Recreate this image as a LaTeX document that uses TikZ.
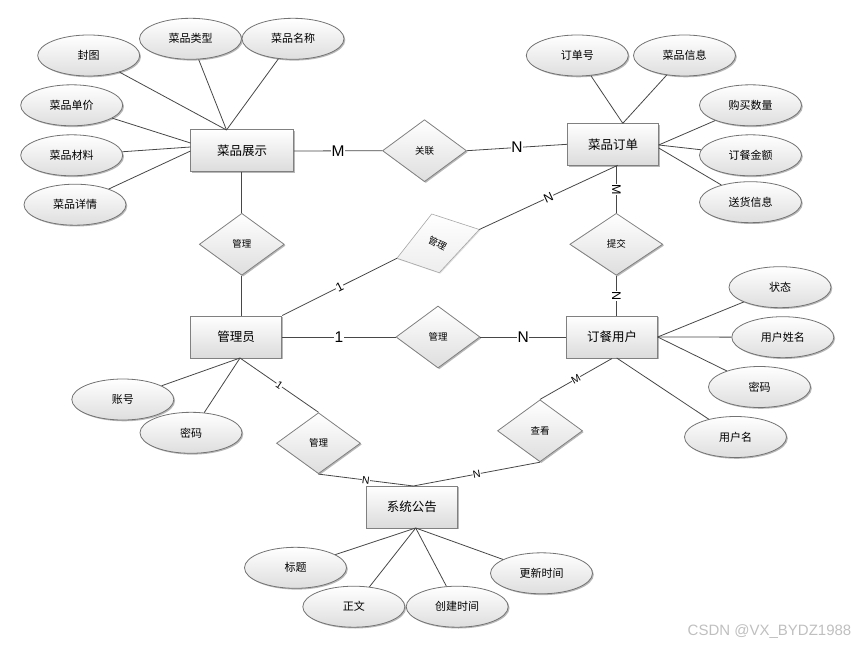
\documentclass[tikz,border=0pt]{standalone}
\usepackage{fontspec}
\setmainfont{Liberation Sans}
\newfontfamily\cjk{Noto Sans CJK SC}
\usetikzlibrary{shapes.geometric,shadows}
\tikzset{
 shdw/.style={drop shadow={shadow xshift=1.3pt,shadow yshift=-1.3pt,fill=black,opacity=0.28}},
 ln/.style={draw=black!72,line width=0.8pt},
 ent/.style={rectangle,draw=black!50,line width=1pt,top color=white,bottom color=black!14,
   minimum width=91pt,minimum height=42pt,inner sep=0pt,font=\cjk\fontsize{12.5}{14}\selectfont,shdw},
 attr/.style={ellipse,draw=black!55,line width=0.8pt,top color=white,bottom color=black!13,
   minimum width=102pt,minimum height=41pt,inner sep=0pt,font=\cjk\fontsize{11}{13}\selectfont,shdw},
 rel/.style={diamond,draw=black!50,line width=0.8pt,top color=white,bottom color=black!13,
   minimum width=85pt,minimum height=62pt,inner sep=0pt,font=\cjk\fontsize{9.5}{11}\selectfont,shdw},
 lab/.style={fill=white,inner sep=0.6pt,font=\fontsize{15.5}{16}\selectfont},
 mlab/.style={fill=white,inner sep=0.5pt,font=\fontsize{12.5}{13}\selectfont},
 slab/.style={fill=white,inner sep=0.3pt,font=\fontsize{10.5}{11}\selectfont},
}
\begin{document}
\begin{tikzpicture}[x=1pt,y=-1pt]
\useasboundingbox (0,0) rectangle (859,647);

% entities
\node[ent,minimum width=103pt] (zs) at (242,151) {菜品展示};
\node[ent] (dd) at (613.2,144.3) {菜品订单};
\node[ent] (gly) at (236.2,337) {管理员};
\node[ent] (yh) at (612,337) {订餐用户};
\node[ent] (gg) at (411.8,507) {系统公告};

% relationships
\node[rel,minimum width=84pt] (gl) at (424.5,150.7) {关联};
\node[rel] (gl1) at (241.8,244.3) {管理};
\node[rel,minimum width=93pt] (tj) at (616.3,244.3) {提交};
\node[rel,minimum width=84pt] (gl3) at (438,337) {管理};
\node[rel,minimum width=84pt,minimum height=61pt] (gl4) at (318.5,443.2) {管理};
\node[rel] (ck) at (540,430.8) {查看};

% tilted relationship
\coordinate (t1) at (431.7,214);
\coordinate (t2) at (479.3,229.5);
\coordinate (t3) at (439.3,272.7);
\coordinate (t4) at (396.9,258.3);
\path[draw=black!35,line width=0.6pt,top color=white,bottom color=black!7,
  drop shadow={shadow xshift=1pt,shadow yshift=-1pt,fill=black,opacity=0.12}]
  (t1) -- (t2) -- (t3) -- (t4) -- cycle;
\node[font=\cjk\fontsize{9.5}{11}\selectfont,rotate=-27] (gl2) at (437.5,243.5) {管理};

% attributes
\node[attr] (fengtu) at (88.7,55.5) {封图};
\node[attr] (leixing) at (190.5,38.8) {菜品类型};
\node[attr] (mingcheng) at (293,38.8) {菜品名称};
\node[attr] (danjia) at (71.7,105.3) {菜品单价};
\node[attr] (cailiao) at (71.7,155.3) {菜品材料};
\node[attr] (xiangqing) at (75,204.7) {菜品详情};
\node[attr] (dingdanhao) at (577.3,55.5) {订单号};
\node[attr] (xinxi) at (684.5,55.5) {菜品信息};
\node[attr] (shuliang) at (750.5,105.3) {购买数量};
\node[attr] (jine) at (750.5,155.3) {订餐金额};
\node[attr] (songhuo) at (750.5,202.2) {送货信息};
\node[attr] (zhuangtai) at (780,287.2) {状态};
\node[attr] (xingming) at (782.8,337.2) {用户姓名};
\node[attr] (mimab) at (759.5,387) {密码};
\node[attr] (yonghuming) at (735.5,437) {用户名};
\node[attr] (zhanghao) at (122.8,399.5) {账号};
\node[attr] (mimaa) at (191,432.8) {密码};
\node[attr] (biaoti) at (295.5,567.8) {标题};
\node[attr] (zhengwen) at (353.8,606.7) {正文};
\node[attr] (chuangjian) at (457.2,606.7) {创建时间};
\node[attr] (gengxin) at (541.5,573.3) {更新时间};

% attachment points
\coordinate (zsA) at (226.5,130);
\coordinate (zsB) at (190.5,143);
\coordinate (zsC) at (190.5,147);
\coordinate (zsD) at (190.5,151);
\coordinate (ddA) at (622.8,123.3);
\coordinate (ddB) at (658.7,145);
\coordinate (ddC) at (658.7,148);
\coordinate (ddS) at (617.7,165.3);
\coordinate (yhA) at (657.7,337);
\coordinate (yhB) at (616.7,358);
\coordinate (glyA) at (240,358);
\coordinate (ggA) at (415.7,528);
\coordinate (ggT) at (413.3,486);

% attribute lines
\draw[ln] (fengtu) -- (zsA);
\draw[ln] (leixing) -- (zsA);
\draw[ln] (mingcheng) -- (zsA);
\draw[ln] (danjia) -- (zsB);
\draw[ln] (cailiao) -- (zsC);
\draw[ln] (xiangqing) -- (zsD);
\draw[ln] (dingdanhao) -- (ddA);
\draw[ln] (xinxi) -- (ddA);
\draw[ln] (shuliang) -- (ddB);
\draw[ln] (jine) -- (ddB);
\draw[ln] (songhuo) -- (ddC);
\draw[ln] (zhuangtai) -- (yhA);
\draw[ln] (xingming) -- (yhA);
\draw[ln] (mimab) -- (yhA);
\draw[ln] (yonghuming) -- (yhB);
\draw[ln] (zhanghao) -- (glyA);
\draw[ln] (mimaa) -- (glyA);
\draw[ln] (biaoti) -- (ggA);
\draw[ln] (zhengwen) -- (ggA);
\draw[ln] (chuangjian) -- (ggA);
\draw[ln] (gengxin) -- (ggA);

% relationship lines
\draw[ln] (zs.east) -- node[lab]{M} (gl.west);
\draw[ln] (gl.east) -- node[lab]{N} (dd.west);
\draw[ln] (zs.south -| gl1.north) -- (gl1.north);
\draw[ln] (gl1.south) -- (gl1.south |- gly.north);
\draw[ln] (tj.north) -- node[mlab,rotate=-90]{M} (tj.north |- dd.south);
\draw[ln] (tj.south) -- node[mlab,rotate=-90]{N} (tj.south |- yh.north);
\draw[ln] (ddS) -- node[mlab,rotate=24.6]{N} (t2);
\draw[ln] (t4) -- node[mlab,rotate=26.7]{1} (gly.north east);
\draw[ln] (gly.east) -- node[lab]{1} (gl3.west);
\draw[ln] (gl3.east) -- node[lab]{N} (yh.west);
\draw[ln] (glyA) -- node[slab,rotate=-34.4]{1} (gl4.north);
\draw[ln] (gl4.south) -- node[slab,rotate=-7.4]{N} (ggT);
\draw[ln] (ck.south) -- node[slab,rotate=10.9]{N} (ggT);
\draw[ln] (ck.north) -- node[slab,rotate=29.6]{M} (yh.south);

% watermark
\node[text=black!25,font=\fontsize{15}{16}\selectfont] (wm) at (769.5,631.5) {CSDN @VX\_BYDZ1988};
\end{tikzpicture}
\end{document}
